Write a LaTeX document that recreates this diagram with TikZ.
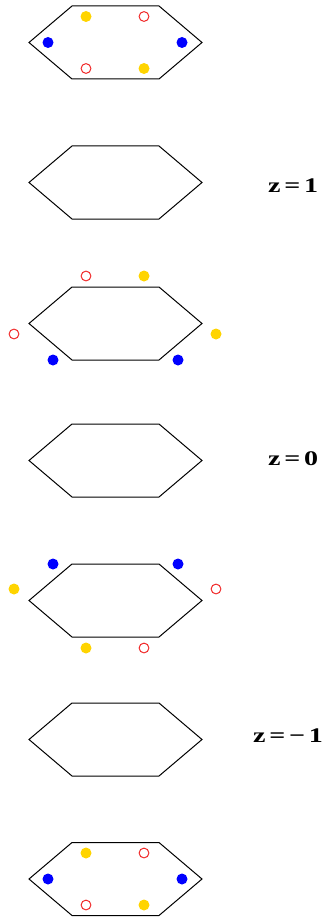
\documentclass[tikz,border=0pt]{standalone}
\usepackage{graphicx}
\usepackage{fontspec}
\setmainfont{Liberation Serif}
\definecolor{golddot}{RGB}{255,212,0}
\definecolor{bluedot}{RGB}{0,0,255}
\definecolor{reddot}{RGB}{240,40,40}
\newcommand\hexagonat[1]{%
  \begin{scope}[shift={(0,#1)}]
    \draw[hexline] (29,0) -- (72,-36.5) -- (159,-36.5) -- (202,0) -- (159,36.5) -- (72,36.5) -- cycle;
  \end{scope}}
\newcommand\zgap{\hspace{2.8pt}}
\newcommand\ztext[1]{\scalebox{1.35}[1]{#1}}
\begin{document}
\begin{tikzpicture}[x=1pt,y=-1pt,
  hexline/.style={draw=black,line width=1pt,line join=miter},
  dotbase/.style={circle,inner sep=0pt,minimum size=11pt},
  bdot/.style={dotbase,fill=bluedot},
  ydot/.style={dotbase,fill=golddot},
  rdot/.style={circle,inner sep=0pt,minimum size=9.8pt,draw=reddot,line width=1pt},
  zlabel/.style={anchor=west,inner sep=0pt,font=\fontsize{20.8}{24}\selectfont\bfseries}]
\useasboundingbox (0,0) rectangle (325,920);

% hexagons
\hexagonat{42.5}
\hexagonat{182.5}
\hexagonat{323.5}
\hexagonat{460.5}
\hexagonat{600.5}
\hexagonat{739.5}
\hexagonat{879}

% hexagon 1 dots
\node[ydot] (a1) at (86,16.5) {};
\node[rdot] (a2) at (144,16.5) {};
\node[bdot] (a3) at (48,42.5) {};
\node[bdot] (a4) at (182,42.5) {};
\node[rdot] (a5) at (86,68.5) {};
\node[ydot] (a6) at (144,68.5) {};

% hexagon 3 dots
\node[rdot] (c1) at (86,276) {};
\node[ydot] (c2) at (144,276) {};
\node[rdot] (c3) at (14,334) {};
\node[ydot] (c4) at (216,334) {};
\node[bdot] (c5) at (53,360) {};
\node[bdot] (c6) at (178,360) {};

% hexagon 5 dots
\node[bdot] (e1) at (53,564) {};
\node[bdot] (e2) at (178,564) {};
\node[ydot] (e3) at (14,589) {};
\node[rdot] (e4) at (216,589) {};
\node[ydot] (e5) at (86,648) {};
\node[rdot] (e6) at (144,648) {};

% hexagon 7 dots
\node[ydot] (g1) at (86,853) {};
\node[rdot] (g2) at (144,853) {};
\node[bdot] (g3) at (48,879) {};
\node[bdot] (g4) at (182,879) {};
\node[rdot] (g5) at (86,905) {};
\node[ydot] (g6) at (144,905) {};

% labels
\node[zlabel] (z1) at (268,186) {\ztext{z\zgap=\zgap1}};
\node[zlabel] (z0) at (268,458.5) {\ztext{z\zgap=\zgap0}};
\node[zlabel] (zm) at (253,736) {\ztext{z\zgap=\zgap−\zgap1}};
\end{tikzpicture}
\end{document}
